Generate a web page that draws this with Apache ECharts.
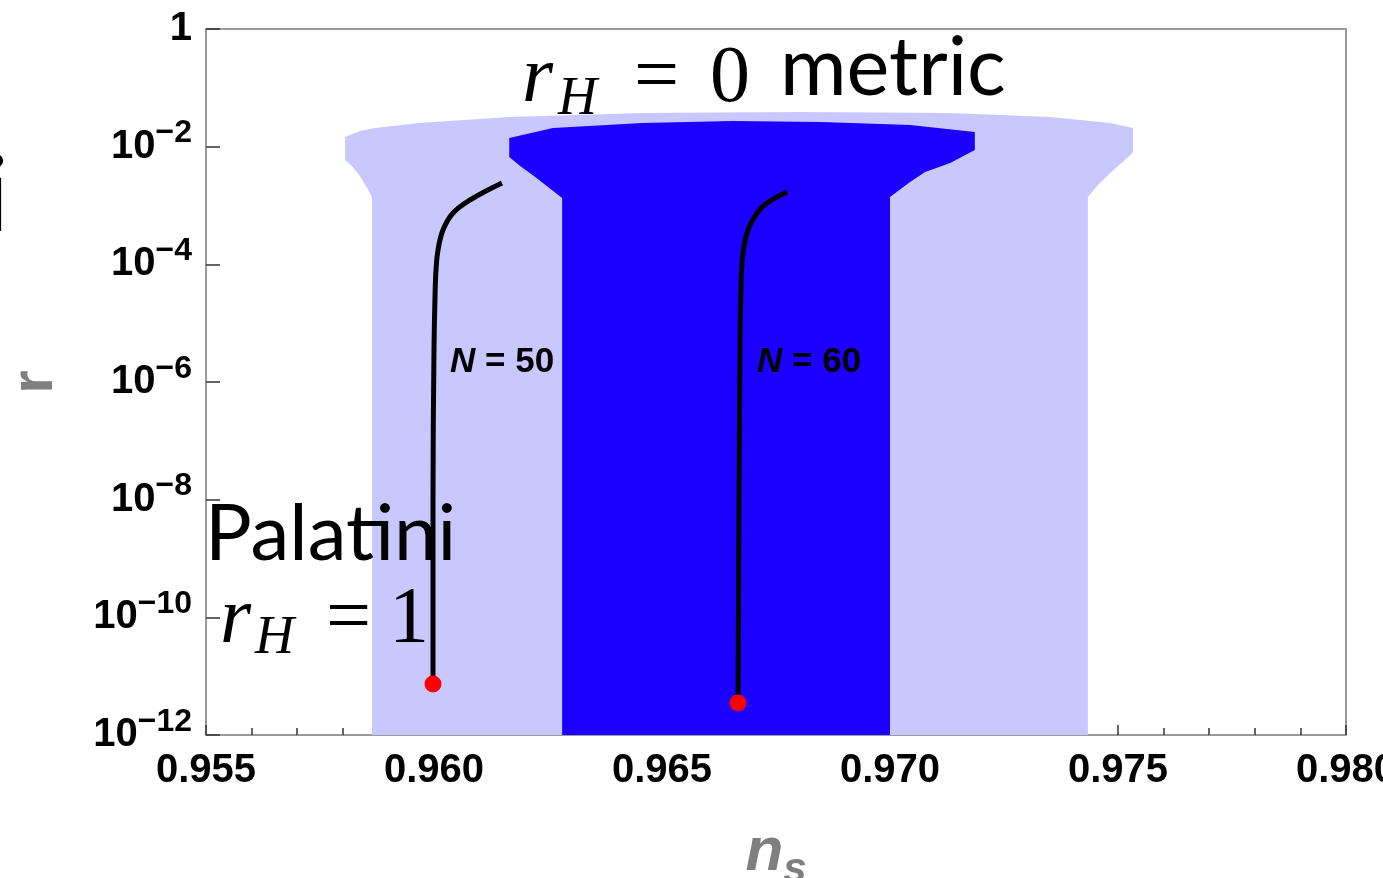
<!DOCTYPE html>
<html><head><meta charset="utf-8">
<script src="https://cdn.jsdelivr.net/npm/echarts@6/dist/echarts.min.js"></script>
<style>html,body{margin:0;padding:0;background:#fff}#c{width:1383px;height:878px}</style>
</head><body><div id="c"></div><script>
// ---- data (ns, r) ----
const lightNs = [0.95864,0.95864,0.95851,0.95836,0.95820,0.95805,0.95805,0.95838,0.95871,0.95967,0.96165,0.96456,0.96803,0.97132,0.97351,0.97483,0.97533,0.97533,0.97520,0.97483,0.97456,0.97434,0.97434];
const lightR  = [1e-12,1.39e-3,2.14e-3,3.30e-3,4.69e-3,5.93e-3,1.46e-2,1.85e-2,2.08e-2,2.52e-2,3.19e-2,3.73e-2,3.88e-2,3.73e-2,3.19e-2,2.52e-2,2.08e-2,8.11e-3,6.41e-3,3.57e-3,2.23e-3,1.39e-3,1e-12];
const darkNs  = [0.96281,0.96281,0.96250,0.96222,0.96189,0.96165,0.96165,0.96261,0.96456,0.96654,0.96849,0.97044,0.97186,0.97186,0.97132,0.97077,0.97044,0.97000,0.97000];
const darkR   = [1e-12,1.34e-3,2.06e-3,3.05e-3,4.69e-3,6.67e-3,1.40e-2,2.08e-2,2.52e-2,2.73e-2,2.63e-2,2.34e-2,1.78e-2,8.78e-3,5.28e-3,3.71e-3,2.51e-3,1.39e-3,1e-12];
const n50Ns = [0.959978,0.959978,0.960000,0.960022,0.960044,0.960088,0.960197,0.960417,0.960789,0.961491];
const n50R  = [7.35e-12,9.87e-9,3.50e-6,2.79e-5,8.01e-5,1.75e-4,3.83e-4,7.46e-4,1.24e-3,2.41e-3];
const n60Ns = [0.966667,0.966689,0.966711,0.966732,0.966776,0.966886,0.967083,0.967303,0.967741];
const n60R  = [3.50e-12,9.87e-9,3.50e-6,4.12e-5,1.56e-4,3.83e-4,7.46e-4,1.10e-3,1.70e-3];
const endNs = [0.959978,0.966667];
const endR  = [7.35e-12,3.50e-12];
const curveNames = ['N = 50','N = 60'];
const xMin = 0.955, xMax = 0.980, xStep = 0.005;
const yMin = 1e-12, yMax = 1;

const zip = (a,b) => a.map((v,i)=>[v,b[i]]);
function polygonSeries(ns, r, color, z){
  const data = zip(ns, r);
  return {
    type:'custom', coordinateSystem:'cartesian2d', data, encode:{x:0,y:1}, silent:true, z,
    renderItem:(params, api)=>{
      if (params.dataIndex !== 0) return null;
      const pts = data.map(d=>api.coord(d));
      return {type:'polygon', shape:{points:pts}, style:{fill:color}};
    }
  };
}
const chart = echarts.init(document.getElementById('c'));
const tickFont = {fontFamily:'Liberation Sans', fontWeight:'bold', fontSize:40, color:'#000'};
const mathFont = 'Liberation Serif';
function txt(x,y,text,font,extra){
  return Object.assign({type:'text', x, y, z:100, style:{text, font, fill:'#000', textAlign:'left', textVerticalAlign:'middle'}}, extra||{});
}
chart.setOption({
  animation:false,
  grid:{left:206,right:37,top:29,bottom:143,show:true,borderColor:'#9a9a9a',borderWidth:2,outerBoundsMode:'none',containLabel:false},
  xAxis:{type:'value',min:xMin,max:xMax,interval:xStep,
    axisLine:{show:true,onZero:false,lineStyle:{color:'#9a9a9a',width:2}},
    axisTick:{show:true,inside:true,length:10,lineStyle:{color:'#333',width:1.5}},
    minorTick:{show:true,splitNumber:5,length:7,lineStyle:{color:'#333',width:1.5}},
    splitLine:{show:false},
    axisLabel:Object.assign({margin:16,formatter:v=>v.toFixed(3)},tickFont),
    name:'{n|n}{s|s}',nameLocation:'middle',nameGap:80,
    nameTextStyle:{rich:{
      n:{fontFamily:'Liberation Sans',fontWeight:'bold',fontStyle:'italic',fontSize:62,color:'#7f7f7f'},
      s:{fontFamily:'Liberation Sans',fontWeight:'bold',fontStyle:'italic',fontSize:42,color:'#7f7f7f',padding:[34,0,0,0]}
    }}
  },
  yAxis:{type:'log',logBase:10,min:yMin,max:yMax,interval:2,
    axisLine:{show:true,onZero:false,lineStyle:{color:'#9a9a9a',width:2}},
    axisTick:{show:true,inside:true,length:14,lineStyle:{color:'#333',width:1.5}},
    minorTick:{show:false},splitLine:{show:false},
    axisLabel:{margin:14,formatter:v=>{
        const e=Math.round(Math.log10(v));
        return e===0?'{b|1}':'{b|10}{s|\u2212'+(-e)+'}';
      },
      rich:{
        b:tickFont,
        s:{fontFamily:'Liberation Sans',fontWeight:'bold',fontSize:32,color:'#000',padding:[0,0,26,0]}
      }},
    name:'r',nameLocation:'middle',nameGap:141,
    nameTextStyle:{fontFamily:'Liberation Sans',fontWeight:'bold',fontSize:60,color:'#7f7f7f'}
  },
  series:[
    polygonSeries(lightNs, lightR, '#c8c8ff', 1),
    polygonSeries(darkNs, darkR, '#1c00ff', 2),
    {type:'line',name:curveNames[0],data:zip(n50Ns,n50R),smooth:0.4,symbol:'none',z:5,lineStyle:{color:'#000',width:5},silent:true},
    {type:'line',name:curveNames[1],data:zip(n60Ns,n60R),smooth:0.4,symbol:'none',z:5,lineStyle:{color:'#000',width:5},silent:true},
    {type:'scatter',data:zip(endNs,endR),symbol:'circle',symbolSize:17,z:6,itemStyle:{color:'#ff0000',opacity:1},silent:true}
  ],
  graphic:[
    txt(-16,197,'i','104px Lato'),
    txt(205,535,'Palatini','78px Lato'),
    txt(780,69,'metric','81px Lato'),
    // r_H = 0
    txt(522,80,'r','italic 80px '+mathFont),
    txt(558,100,'H','italic 54px '+mathFont),
    txt(634,80,'=','80px '+mathFont),
    txt(710,80,'0','80px '+mathFont),
    // r_H = 1
    txt(220,621,'r','italic 80px '+mathFont),
    txt(255,639,'H','italic 54px '+mathFont),
    txt(326,621,'=','80px '+mathFont),
    txt(389,621,'1','80px '+mathFont),
    {type:'text',x:450,y:362,z:100,style:{text:'{i|N} = 50',font:'bold 35px Liberation Sans',fill:'#000',textVerticalAlign:'middle',
      rich:{i:{fontStyle:'italic',fontWeight:'bold',fontSize:35,fontFamily:'Liberation Sans',color:'#000'}}}},
    {type:'text',x:757,y:362,z:100,style:{text:'{i|N} = 60',font:'bold 35px Liberation Sans',fill:'#000',textVerticalAlign:'middle',
      rich:{i:{fontStyle:'italic',fontWeight:'bold',fontSize:35,fontFamily:'Liberation Sans',color:'#000'}}}}
  ]
});
</script></body></html>
